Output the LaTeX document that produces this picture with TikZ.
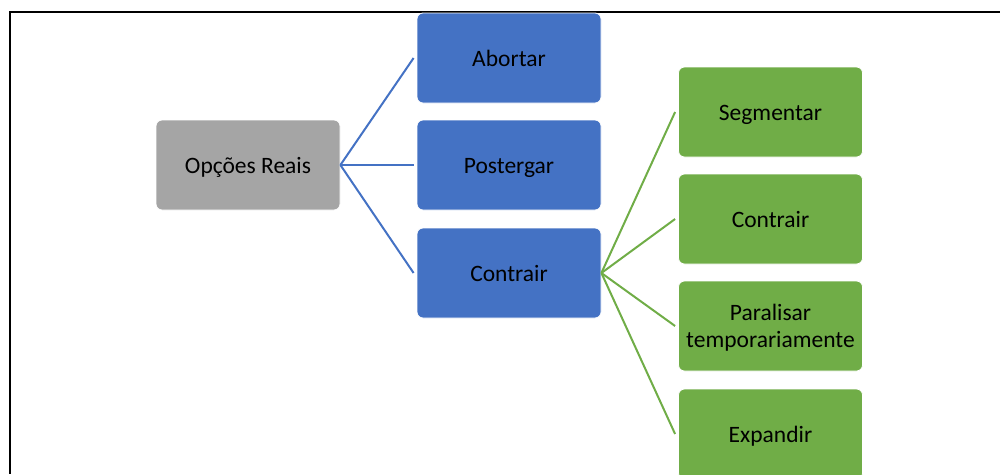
\documentclass[tikz,border=0pt]{standalone}
\usepackage{fontspec}
\setmainfont{Carlito}
\definecolor{grayfill}{HTML}{A5A5A5}
\definecolor{bluefill}{HTML}{4472C4}
\definecolor{greenfill}{HTML}{70AD47}
\begin{document}
\begin{tikzpicture}[x=1pt,y=-1pt,
  box/.style={draw=white, line width=0.8pt, rounded corners=6pt, minimum width=184pt,
    minimum height=90pt, align=center, inner sep=2pt, text=black,
    font=\fontsize{23.5}{27}\selectfont, text height=19pt, text depth=2pt},
  twolines/.style={text height=45pt, text depth=2pt},
  root/.style={box, fill=grayfill},
  bluebox/.style={box, fill=bluefill},
  greenbox/.style={box, fill=greenfill},
  blueline/.style={draw=bluefill, line width=2pt},
  greenline/.style={draw=greenfill, line width=2pt}]
\useasboundingbox (0,0) rectangle (1000,474);
% frame along the top and left edges
\draw[line width=2pt] (1000,11.5) -- (10,11.5) -- (10,474);
% nodes
\node[root] (root) at (248,165) {Opções Reais};
\node[bluebox] (abortar) at (509,58) {Abortar};
\node[bluebox] (postergar) at (509,165) {Postergar};
\node[bluebox] (contrair) at (509,273) {Contrair};
\node[greenbox] (segmentar) at (770.5,112) {Segmentar};
\node[greenbox] (contrair2) at (770.5,219) {Contrair};
\node[greenbox, twolines] (paralisar) at (770.5,326) {Paralisar\\temporariamente};
\node[greenbox] (expandir) at (770.5,434) {Expandir};
% connectors
\foreach \t in {abortar,postergar,contrair}
  \draw[blueline] (root.east) -- ([xshift=-3pt]\t.west);
\foreach \t in {segmentar,contrair2,paralisar,expandir}
  \draw[greenline] (contrair.east) -- ([xshift=-3pt]\t.west);
\end{tikzpicture}
\end{document}
